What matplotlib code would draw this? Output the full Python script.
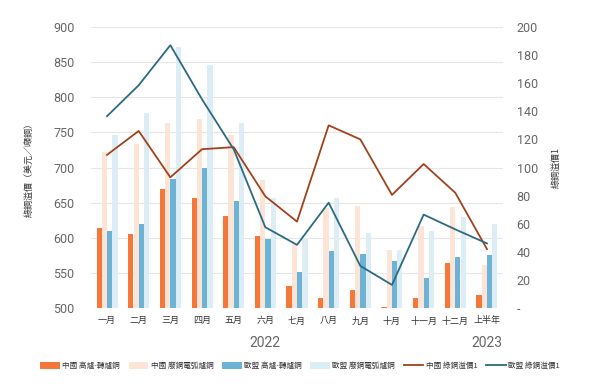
import matplotlib
matplotlib.use("Agg")
import matplotlib.pyplot as plt
import numpy as np

plt.rcParams['font.family'] = ['Noto Sans CJK TC', 'DejaVu Sans']

# Données
months = ["一月", "二月", "三月", "四月", "五月", "六月", "七月", "八月", "九月",
          "十月", "十一月", "十二月", "上半年"]
cn_bof = [614, 605, 669, 657, 631, 603, 531, 515, 526, 502, 515, 564, 519]
cn_eaf = [722, 733, 763, 769, 746, 682, 592, 643, 645, 583, 617, 644, 561]
eu_bof = [609, 619, 684, 699, 653, 599, 552, 581, 577, 567, 543, 573, 576]
eu_eaf = [746, 777, 871, 846, 763, 657, 600, 657, 607, 583, 610, 629, 620]
cn_premium = [109, 126, 93, 113, 114.5, 79.5, 61.5, 130, 120, 80.5, 102.5, 82, 42]
eu_premium = [136.5, 158.5, 187, 148.5, 113, 57.5, 45, 75, 30, 16.5, 66.5, 56, 46]

left_ticks = [500, 550, 600, 650, 700, 750, 800, 850, 900]
right_ticks = [0, 20, 40, 60, 80, 100, 120, 140, 160, 180, 200]

c_cn_bof = "#F5773A"
c_cn_eaf = "#FCE5D6"
c_eu_bof = "#6DB3D5"
c_eu_eaf = "#DDEDF5"
c_cn_line = "#A2411B"
c_eu_line = "#2C6A82"
grey = "#666666"

fig = plt.figure(figsize=(6, 3.9), dpi=100)
ax = fig.add_axes([0.152, 0.21, 0.686, 0.721])

x = np.arange(len(months))
w = 0.168
bars = []
for i, (vals, col, lab) in enumerate([
        (cn_bof, c_cn_bof, "中國 高爐-轉爐鋼"),
        (cn_eaf, c_cn_eaf, "中國 廢鋼電弧爐鋼"),
        (eu_bof, c_eu_bof, "歐盟 高爐-轉爐鋼"),
        (eu_eaf, c_eu_eaf, "歐盟 廢鋼電弧爐鋼")]):
    b = ax.bar(x + (i - 1.5) * w, np.array(vals) - 500, bottom=500, width=w * 0.95,
               color=col, label=lab, zorder=2)
    bars.append(b)

ax.set_ylim(500, 900)
ax.set_xlim(-0.5, 12.5)
ax.set_yticks(left_ticks)
ax.set_yticklabels([str(t) for t in left_ticks], family="Roboto", fontsize=9, color=grey)
ax.set_xticks(x)
ax.set_xticklabels(months, fontsize=6.5, color="#333333")
ax.tick_params(axis="both", length=0)
ax.tick_params(axis="y", pad=12)
ax.tick_params(axis="x", pad=6)
ax.grid(axis="y", color="#E6E6E6", linewidth=0.8, zorder=0)
ax.set_axisbelow(True)
for s in ax.spines.values():
    s.set_visible(False)
ax.set_ylabel("綠鋼溢價（美元／噸鋼）", fontsize=6.5, color="#333333", labelpad=14)

ax2 = ax.twinx()
l1, = ax2.plot(x, cn_premium, color=c_cn_line, linewidth=1.3, label="中國 綠鋼溢價1")
l2, = ax2.plot(x, eu_premium, color=c_eu_line, linewidth=1.3, label="歐盟 綠鋼溢價1")
ax2.set_ylim(0, 200)
ax2.set_yticks(right_ticks)
ax2.set_yticklabels(["-" if t == 0 else str(t) for t in right_ticks],
                    family="Roboto", fontsize=9, color=grey)
ax2.tick_params(axis="y", length=0, pad=10)
for s in ax2.spines.values():
    s.set_visible(False)
ax2.set_ylabel("綠鋼溢價1", fontsize=6.5, color="#333333", rotation=90, labelpad=10)

fig.text(265 / 600, 1 - 343 / 390, "2022", family="Roboto", fontsize=10, color=grey,
         ha="center", va="center")
fig.text(487 / 600, 1 - 343 / 390, "2023", family="Roboto", fontsize=10, color=grey,
         ha="center", va="center")

handles = bars + [l1, l2]
fig.legend(handles=handles, labels=[h.get_label() for h in handles],
           loc="center", bbox_to_anchor=(0.5, 1 - 366 / 390), ncol=6, frameon=False,
           fontsize=5.5, handlelength=2.6, handleheight=0.9, columnspacing=1.1,
           handletextpad=0.3, labelcolor="#333333")

fig.savefig("out.png", dpi=100)
